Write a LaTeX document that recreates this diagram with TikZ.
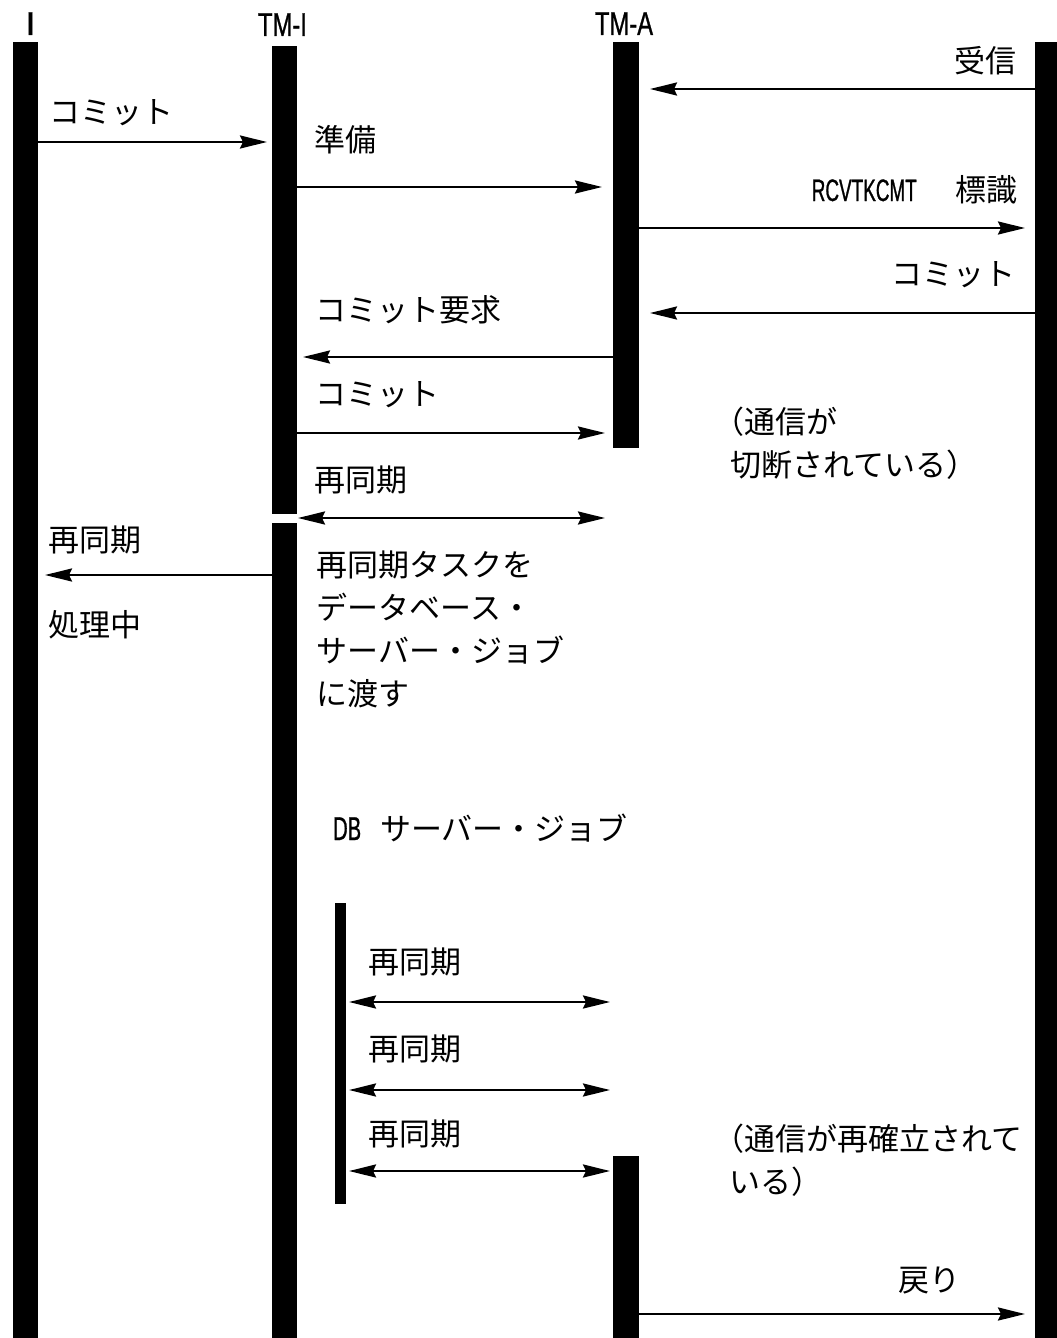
\documentclass[tikz,border=0pt]{standalone}
\usepackage{fontspec}
\setmainfont{Noto Sans CJK JP}
\newfontfamily\latc[FakeStretch=0.61,FakeBold=0.8]{Liberation Sans}
\newfontfamily\lath[FakeStretch=0.72,FakeBold=0.8]{Liberation Sans}
\usetikzlibrary{arrows.meta}
\begin{document}
\begin{tikzpicture}[x=1pt,y=-1pt,
  bar/.style={fill=black, draw=none, inner sep=0pt, outer sep=0pt, anchor=north west},
  tip/.tip={Stealth[length=27pt,width=13pt,inset=3pt]},
  msg/.style={line width=2.6pt, -tip},
  dmsg/.style={line width=2.6pt, tip-tip},
  lbl/.style={inner sep=0pt, anchor=base west, font=\fontsize{31}{43}\selectfont},
  rlbl/.style={lbl, anchor=base east},
  hdr/.style={inner sep=0pt, anchor=base, font=\lath\fontsize{33}{38}\selectfont}]
\useasboundingbox (0,0) rectangle (1057,1338);

% lifeline bars
\node[bar, minimum width=25pt, minimum height=1296pt] (bI)    at (13,42) {};
\node[bar, minimum width=25pt, minimum height=468pt]  (bTMI1) at (272,46) {};
\node[bar, minimum width=25pt, minimum height=815pt]  (bTMI2) at (272,523) {};
\node[bar, minimum width=26pt, minimum height=406pt]  (bTMA1) at (613,42) {};
\node[bar, minimum width=26pt, minimum height=182pt]  (bTMA2) at (613,1156) {};
\node[bar, minimum width=25pt, minimum height=1296pt] (bR)    at (1035,42) {};
\node[bar, minimum width=11pt, minimum height=301pt]  (bDB)   at (335,903) {};

% headers
\node[hdr, font=\lath\bfseries\fontsize{33}{38}\selectfont] (hI) at (30.5,35) {I};
\node[hdr] (hTMI) at (282.5,36) {TM-I};
\node[hdr] (hTMA) at (624,35) {TM-A};

% messages
\draw[msg, shorten >=11pt] (bR.west |- 0,89) -- (bTMA1.east |- 0,89);
\node[rlbl] (l1) at (1017,73) {受信};

\draw[msg, shorten >=5pt] (bI.east |- 0,142) -- (bTMI1.west |- 0,142);
\node[lbl] (l2) at (49,123) {コミット};

\draw[msg, shorten >=11pt] (bTMI1.east |- 0,187) -- (bTMA1.west |- 0,187);
\node[lbl] (l3) at (314,151) {準備};

\draw[msg, shorten >=10pt] (bTMA1.east |- 0,228) -- (bR.west |- 0,228);
\node[rlbl] (l4) at (1018,201) {{\latc\fontsize{31}{36}\selectfont RCVTKCMT}\hspace{39pt}標識};

\draw[msg, shorten >=11pt] (bR.west |- 0,313) -- (bTMA1.east |- 0,313);
\node[rlbl] (l5) at (1016,285) {コミット};

\draw[msg, shorten >=6pt] (bTMA1.west |- 0,357) -- (bTMI1.east |- 0,357);
\node[lbl] (l6) at (315,321) {コミット要求};

\draw[msg, shorten >=8pt] (bTMI1.east |- 0,433) -- (bTMA1.west |- 0,433);
\node[lbl] (l7) at (315,405) {コミット};

% multi-line nodes: base anchor = baseline of the last line
\node[lbl, align=left] (n1) at (730.5,476) {\hspace*{-17.5pt}（通信が\\切断されている）};

\draw[dmsg, shorten <=1pt, shorten >=8pt] (bTMI1.east |- 0,518) -- (bTMA1.west |- 0,518);
\node[lbl] (l8) at (314,491) {再同期};

\draw[msg, shorten >=7pt] (bTMI2.west |- 0,575) -- (bI.east |- 0,575);
\node[lbl] (l9) at (48.5,551) {再同期};
\node[lbl] (l10) at (48.5,636) {処理中};

\node[lbl, align=left] (n2) at (316.5,705) {再同期タスクを\\データベース・\\サーバー・ジョブ\\に渡す};

\node[lbl] (n3) at (333,840) {{\latc\fontsize{33}{38}\selectfont DB}\hspace{19pt}サーバー・ジョブ};

\draw[dmsg, shorten <=3pt, shorten >=3pt] (bDB.east |- 0,1002) -- (bTMA2.west |- 0,1002);
\node[lbl] (l11) at (368.5,973) {再同期};
\draw[dmsg, shorten <=3pt, shorten >=3pt] (bDB.east |- 0,1090) -- (bTMA2.west |- 0,1090);
\node[lbl] (l12) at (368.5,1060) {再同期};
\draw[dmsg, shorten <=3pt, shorten >=3pt] (bDB.east |- 0,1171) -- (bTMA2.west |- 0,1171);
\node[lbl] (l13) at (368.5,1145) {再同期};

\node[lbl, align=left] (n4) at (729,1193) {\hspace*{-16pt}（通信が再確立されて\\いる）};

\draw[msg, shorten >=10pt] (bTMA2.east |- 0,1314) -- (bR.west |- 0,1314);
\node[rlbl] (l14) at (961,1291) {戻り};
\end{tikzpicture}
\end{document}
